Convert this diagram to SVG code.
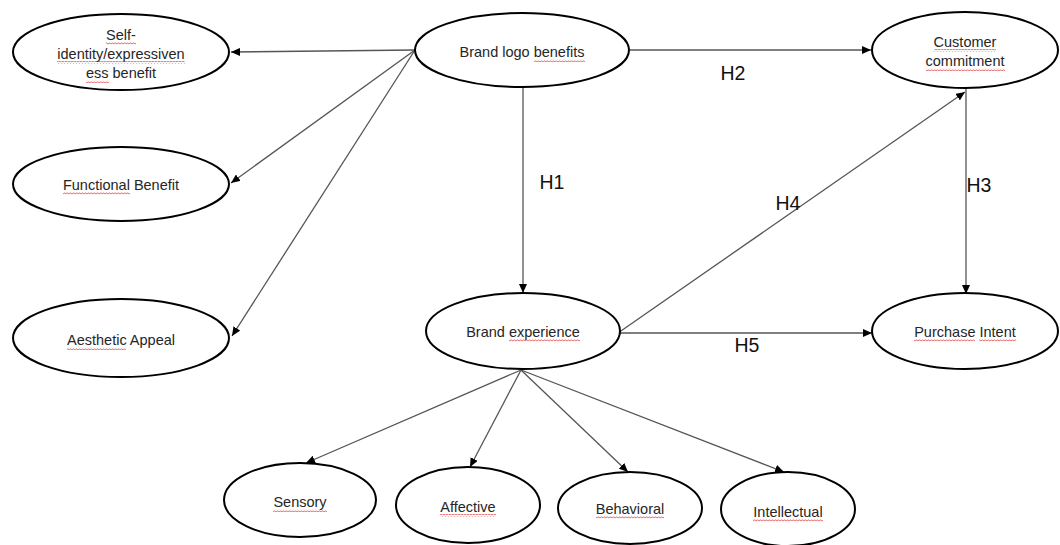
<svg xmlns="http://www.w3.org/2000/svg" width="1060" height="545" viewBox="0 0 1060 545">
<style>
.node ellipse{fill:#fff;stroke:#000;stroke-width:2}
.node text{font-family:"Liberation Sans",Arial,sans-serif;font-size:14.5px;fill:#262626;text-anchor:middle}
.sq{fill:url(#sq)}
#connectors line{stroke:#555;stroke-width:1.3;marker-end:url(#arr)}
.lbl{font-family:"Liberation Sans",Arial,sans-serif;font-size:19.5px;fill:#111;text-anchor:middle}
</style>
<defs>
<marker id="arr" markerUnits="userSpaceOnUse" markerWidth="10" markerHeight="8" refX="9" refY="4" orient="auto">
<path d="M0,0 L9,4 L0,8 Z" fill="#000"/>
</marker>
<pattern id="sq" patternUnits="userSpaceOnUse" width="3" height="3">
<path d="M0,2.3 L1.5,0.7 L3,2.3" fill="none" stroke="#e03030" stroke-width="0.8"/>
</pattern>
</defs>
<rect width="1060" height="545" fill="#fff"/>
<g id="connectors">
<line x1="415" y1="50" x2="231" y2="52"/>
<line x1="415" y1="50" x2="231" y2="183"/>
<line x1="415" y1="50" x2="232" y2="336"/>
<line x1="630" y1="50" x2="871" y2="50"/>
<line x1="523" y1="87" x2="523" y2="293"/>
<line x1="966" y1="88" x2="966" y2="294"/>
<line x1="618" y1="333" x2="965" y2="92"/>
<line x1="618" y1="333" x2="872" y2="333"/>
<line x1="521" y1="370" x2="306" y2="463"/>
<line x1="521" y1="370" x2="470" y2="467"/>
<line x1="521" y1="370" x2="628" y2="472"/>
<line x1="521" y1="370" x2="784" y2="472"/>
<text class="lbl" x="733" y="80">H2</text>
<text class="lbl" x="552" y="189">H1</text>
<text class="lbl" x="979" y="192">H3</text>
<text class="lbl" x="788" y="210">H4</text>
<text class="lbl" x="747" y="352">H5</text>
</g>
<g id="self-identity" class="node">
<ellipse cx="121" cy="52" rx="108" ry="38"/>
<text x="121" y="40">Self-</text>
<text x="121" y="59">identity/expressiven</text>
<text x="121" y="78">ess benefit</text>
<rect class="sq" x="106" y="42" width="30" height="3"/>
<rect class="sq" x="57" y="61" width="128" height="3"/>
<rect class="sq" x="86" y="80" width="23" height="3"/>
</g>
<g id="functional" class="node">
<ellipse cx="121" cy="184" rx="108" ry="37"/>
<text x="121" y="190">Functional Benefit</text>
<rect class="sq" x="63" y="192" width="67" height="3"/>
</g>
<g id="aesthetic" class="node">
<ellipse cx="121" cy="338" rx="108" ry="39"/>
<text x="121" y="345">Aesthetic Appeal</text>
<rect class="sq" x="67" y="347" width="59" height="3"/>
</g>
<g id="brand-logo" class="node">
<ellipse cx="522" cy="50" rx="107" ry="37"/>
<text x="522" y="57">Brand logo benefits</text>
<rect class="sq" x="534" y="59" width="51" height="3"/>
</g>
<g id="customer-commitment" class="node">
<ellipse cx="965" cy="50" rx="93" ry="38"/>
<text x="965" y="47">Customer</text>
<text x="965" y="66">commitment</text>
<rect class="sq" x="934" y="49" width="62" height="3"/>
<rect class="sq" x="926" y="68" width="79" height="3"/>
</g>
<g id="brand-experience" class="node">
<ellipse cx="523" cy="331" rx="97" ry="38"/>
<text x="523" y="337">Brand experience</text>
<rect class="sq" x="509" y="339" width="71" height="3"/>
</g>
<g id="purchase-intent" class="node">
<ellipse cx="965" cy="331" rx="93" ry="38"/>
<text x="965" y="337">Purchase Intent</text>
<rect class="sq" x="914" y="339" width="61" height="3"/>
<rect class="sq" x="979" y="339" width="37" height="3"/>
</g>
<g id="sensory" class="node">
<ellipse cx="300" cy="500" rx="76" ry="37"/>
<text x="300" y="507">Sensory</text>
<rect class="sq" x="273" y="509" width="54" height="3"/>
</g>
<g id="affective" class="node">
<ellipse cx="468" cy="505" rx="72" ry="38"/>
<text x="468" y="512">Affective</text>
<rect class="sq" x="440" y="514" width="56" height="3"/>
</g>
<g id="behavioral" class="node">
<ellipse cx="630" cy="508" rx="72" ry="36"/>
<text x="630" y="514">Behavioral</text>
<rect class="sq" x="596" y="516" width="68" height="3"/>
</g>
<g id="intellectual" class="node">
<ellipse cx="788" cy="509" rx="67" ry="37"/>
<text x="788" y="517">Intellectual</text>
<rect class="sq" x="753" y="519" width="70" height="3"/>
</g>
</svg>
